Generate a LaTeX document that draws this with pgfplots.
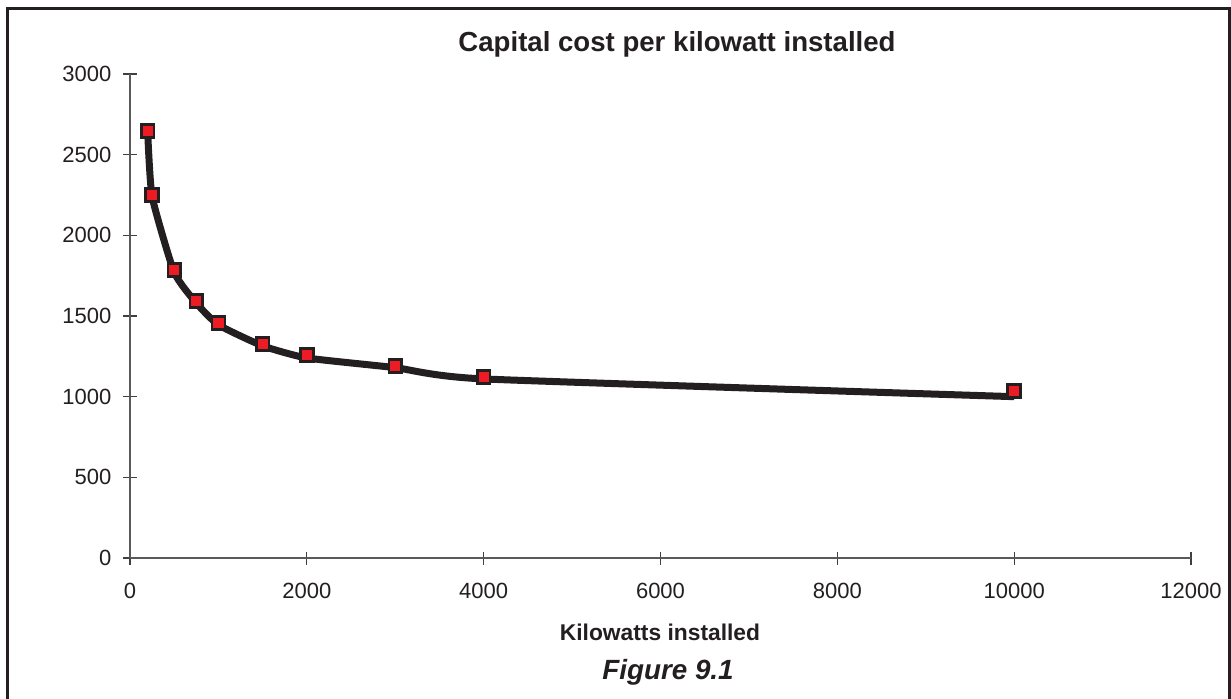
\documentclass[border=0pt]{standalone}
\usepackage{pgfplots}
\pgfplotsset{compat=1.18}
\usepackage{fontspec}
\setmainfont{Liberation Sans}
\definecolor{mkred}{HTML}{ED1C24}
\definecolor{ink}{HTML}{231F20}
\begin{document}
\begin{tikzpicture}
\useasboundingbox (-65pt,-70pt) rectangle (550.5pt,279pt);
\begin{axis}[
  at={(0,0)}, anchor=origin,
  scale only axis,
  width=530.5pt, height=242pt,
  xmin=0, xmax=12000, ymin=0, ymax=3000,
  axis x line=bottom, axis y line=left,
  axis line style={-, draw=black!65, line width=0.6pt},
  xtick={0,2000,...,12000}, ytick={0,500,...,3000},
  tick align=center, major tick length=6.5pt,
  tick style={draw=black!75, line width=0.6pt},
  /pgf/number format/assume math mode=true,
  scaled ticks=false,
  xticklabel={\pgfmathprintnumber[fixed,1000 sep={}]{\tick}},
  yticklabel={\pgfmathprintnumber[fixed,1000 sep={}]{\tick}},
  ticklabel style={font=\fontsize{11}{13}\selectfont, text=ink},
  xticklabel style={yshift=-6pt},
  yticklabel style={xshift=-2.5pt},
  clip=false,
]
\addplot[ink, line width=3.5pt, smooth, tension=0.3, line cap=butt] coordinates {
 (200,2640) (250,2240) (500,1770) (750,1580) (1000,1445) (1500,1315)
 (2000,1240) (3000,1180) (4000,1110) (10000,1000)};
\addplot[only marks, mark=square*, mark size=3.2pt,
  mark options={fill=mkred, draw=ink, line width=1.3pt}] coordinates {
 (200,2647) (250,2250) (500,1785) (750,1593) (1000,1457) (1500,1326)
 (2000,1258) (3000,1190) (4000,1122) (10000,1035)};
\end{axis}
\node[font=\bfseries\fontsize{13.8}{16}\selectfont, text=ink] at (273.5pt,257pt) {Capital cost per kilowatt installed};
\node[font=\bfseries\fontsize{11.4}{13}\selectfont, text=ink] at (265pt,-37pt) {Kilowatts installed};
\node[font=\bfseries\itshape\fontsize{13.9}{16}\selectfont, text=ink] at (269pt,-57pt) {Figure 9.1};
\draw[ink, line width=1.5pt] (-61pt,-80pt) -- (-61pt,275pt) -- (549.5pt,275pt) -- (549.5pt,-80pt);
\end{tikzpicture}
\end{document}
